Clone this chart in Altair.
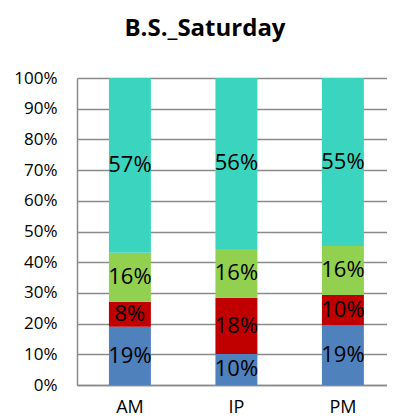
import altair as alt
import pandas as pd

categories = ["AM", "IP", "PM"]
series = ["S1", "S2", "S3", "S4"]
colors = ["#4F81BD", "#C00000", "#92D050", "#3BD5BF"]
s1 = [19.0, 10.1, 19.4]
s2 = [8.1, 18.3, 9.9]
s3 = [16.0, 15.9, 16.0]
s4 = [56.9, 55.7, 54.7]
y_ticks = [0.0, 0.1, 0.2, 0.3, 0.4, 0.5, 0.6, 0.7, 0.8, 0.9, 1.0]

rows = []
for i, c in enumerate(categories):
    for j, (name, vals) in enumerate(zip(series, [s1, s2, s3, s4])):
        rows.append({"cat": c, "series": name, "order": j, "value": vals[i] / 100.0})
df = pd.DataFrame(rows)

FONT = "Open Sans"
GREY = "#8a8a8a"

base = alt.Chart(df).transform_stack(
    stack="value", groupby=["cat"], as_=["y0", "y1"], sort=[{"field": "order", "order": "ascending"}]
).transform_calculate(mid="(datum.y0 + datum.y1) / 2")

xscale = alt.Scale(paddingInner=0.606, paddingOuter=0.2585, align=0.58)
yscale = alt.Scale(domain=[0, 1])
xaxis = alt.Axis(labelAngle=0, labelFontSize=18, labelFont=FONT, labelColor="#000000",
                 ticks=False, domainColor=GREY, domainWidth=1.5, labelPadding=13, grid=False)
yaxis = alt.Axis(format=".0%", values=y_ticks, labelOverlap=False, grid=True,
                 labelFontSize=17, labelFont=FONT, labelColor="#000000", ticks=False,
                 domainColor=GREY, domainWidth=1.5, gridColor=GREY,
                 gridWidth=1.5, labelPadding=20)

bars = base.mark_bar().encode(
    x=alt.X("cat:N", sort=categories, title=None, scale=xscale, axis=xaxis),
    y=alt.Y("y0:Q", title=None, scale=yscale, axis=yaxis),
    y2="y1:Q",
    color=alt.Color("series:N", scale=alt.Scale(domain=series, range=colors), legend=None),
)

labels = base.mark_text(fontSize=22, font=FONT, color="#000000", baseline="middle").encode(
    x=alt.X("cat:N", sort=categories, title=None, scale=xscale, axis=xaxis),
    y=alt.Y("mid:Q", title=None, scale=yscale, axis=yaxis),
    text=alt.Text("value:Q", format=".0%"),
)

chart = alt.layer(bars, labels).properties(
    width=310, height=307,
    title=alt.TitleParams("B.S._Saturday", font=FONT, fontSize=24, fontWeight="bold",
                          color="#000000", anchor="middle", dx=-27, offset=28),
    autosize=alt.AutoSizeParams(type="none"),
    padding={"left": 69, "top": 70, "right": 0, "bottom": 34},
).configure_view(stroke=None)

chart.save("out.html", embed_options={"renderer": "svg", "actions": False})
